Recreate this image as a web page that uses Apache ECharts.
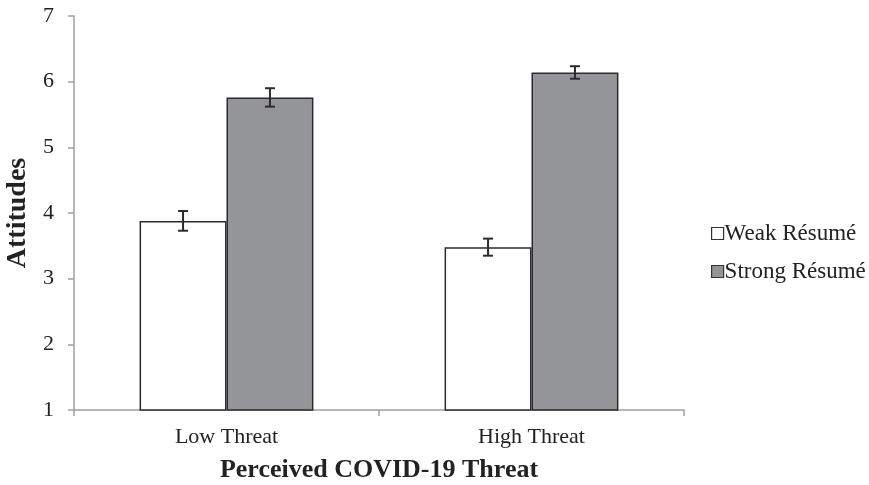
<!DOCTYPE html>
<html>
<head>
<meta charset="utf-8">
<script src="https://cdn.jsdelivr.net/npm/echarts@6/dist/echarts.min.js"></script>
<style>html,body{margin:0;padding:0;background:#fff}#c{width:869px;height:485px}</style>
</head>
<body>
<div id="c"></div>
<script>
var categories = ['Low Threat', 'High Threat'];
var seriesNames = ['Weak Résumé', 'Strong Résumé'];
var weakValues = [3.88, 3.48];
var strongValues = [5.76, 6.14];
var weakErrors = [0.15, 0.13];
var strongErrors = [0.14, 0.095];
var yTicks = [1, 2, 3, 4, 5, 6, 7];

var font = 'Liberation Serif, Times New Roman, serif';
var catGap = 0.43;

function errorSeries(values, errors, side) {
  return {
    type: 'custom',
    silent: true,
    z: 10,
    data: values.map(function (v, i) { return [i, v, errors[i]]; }),
    renderItem: function (params, api) {
      var idx = api.value(0), v = api.value(1), e = api.value(2);
      var band = api.size([1, 0])[0];
      var bw = band * (1 - catGap) / 2;
      var c = api.coord([idx, v]);
      var x = c[0] + side * bw / 2;
      var top = api.coord([idx, v + e])[1];
      var bot = api.coord([idx, v - e])[1];
      var cap = 5;
      var st = { stroke: '#2b2b2b', lineWidth: 2 };
      return {
        type: 'group',
        children: [
          { type: 'line', shape: { x1: x, y1: top, x2: x, y2: bot }, style: st },
          { type: 'line', shape: { x1: x - cap, y1: top, x2: x + cap, y2: top }, style: st },
          { type: 'line', shape: { x1: x - cap, y1: bot, x2: x + cap, y2: bot }, style: st }
        ]
      };
    }
  };
}

var chart = echarts.init(document.getElementById('c'));
chart.setOption({
  animation: false,
  backgroundColor: '#fff',
  grid: { left: 74, top: 16, right: 185, bottom: 75, containLabel: false, outerBoundsMode: 'none' },
  legend: {
    orient: 'vertical',
    left: 706,
    top: 217,
    itemWidth: 12,
    itemHeight: 12,
    itemGap: 15,
    icon: 'rect',
    textStyle: { fontFamily: font, fontSize: 23, color: '#222', padding: [0, 0, 0, -4] },
    data: [
      { name: seriesNames[0], itemStyle: { color: '#fff', borderColor: '#333', borderWidth: 1.2 } },
      { name: seriesNames[1], itemStyle: { color: '#939598', borderColor: '#333', borderWidth: 1.2 } }
    ]
  },
  xAxis: {
    type: 'category',
    data: categories,
    name: 'Perceived COVID-19 Threat',
    nameLocation: 'middle',
    nameGap: 47,
    nameTextStyle: { fontFamily: font, fontSize: 26, fontWeight: 'bold', color: '#222' },
    axisLine: { lineStyle: { color: '#a0a0a0', width: 1.5 } },
    axisTick: { show: true, length: 6, lineStyle: { color: '#a0a0a0', width: 1.5 } },
    axisLabel: { fontFamily: font, fontSize: 22, color: '#222', margin: 16 }
  },
  yAxis: {
    type: 'value',
    min: yTicks[0],
    max: yTicks[yTicks.length - 1],
    interval: 1,
    name: 'Attitudes',
    nameLocation: 'middle',
    nameGap: 35,
    nameTextStyle: { fontFamily: font, fontSize: 28, fontWeight: 'bold', color: '#222' },
    axisLine: { show: true, lineStyle: { color: '#a0a0a0', width: 1.5 } },
    axisTick: { show: true, length: 6, lineStyle: { color: '#a0a0a0', width: 1.5 } },
    splitLine: { show: false },
    axisLabel: { fontFamily: font, fontSize: 22, color: '#222', margin: 20 }
  },
  series: [
    {
      name: seriesNames[0],
      type: 'bar',
      data: weakValues,
      barGap: '0%',
      barCategoryGap: (catGap * 100) + '%',
      itemStyle: { color: '#fff', borderColor: '#2b2b2b', borderWidth: 1.5 }
    },
    {
      name: seriesNames[1],
      type: 'bar',
      data: strongValues,
      barGap: '0%',
      barCategoryGap: (catGap * 100) + '%',
      itemStyle: { color: '#939598', borderColor: '#2b2b2b', borderWidth: 1.5 }
    },
    errorSeries(weakValues, weakErrors, -1),
    errorSeries(strongValues, strongErrors, 1)
  ]
});
</script>
</body>
</html>
